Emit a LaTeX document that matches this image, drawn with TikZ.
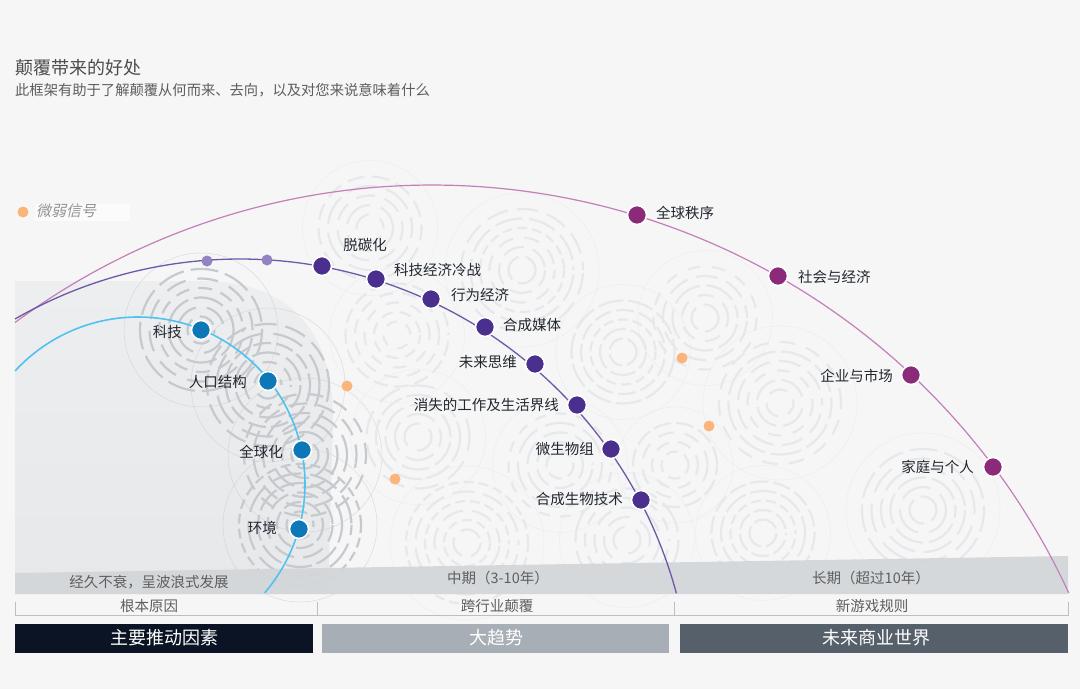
\documentclass[tikz,border=0pt]{standalone}
\usepackage{fontspec}
\setmainfont{Noto Sans CJK SC}
\newfontfamily\slantf[FakeSlant=0.22]{Noto Sans CJK SC}
\definecolor{bgc}{HTML}{F6F6F6}
\definecolor{leftc}{HTML}{EDEEEF}
\definecolor{leftc2}{HTML}{E7E8EA}
\definecolor{bandc}{HTML}{D3D6D9}
\definecolor{ripdark}{HTML}{C6C9CE}
\definecolor{riplight}{HTML}{E6E8EB}
\definecolor{bluel}{HTML}{4EC3EF}
\definecolor{bluen}{HTML}{0D78B8}
\definecolor{purl}{HTML}{6D58AA}
\definecolor{purn}{HTML}{4A2F8F}
\definecolor{purs}{HTML}{9383C2}
\definecolor{magl}{HTML}{C47EB9}
\definecolor{magn}{HTML}{8A2A79}
\definecolor{orn}{HTML}{FBB57A}
\definecolor{labelc}{HTML}{222730}
\definecolor{titlec}{HTML}{4D4D4D}
\definecolor{subc}{HTML}{5E5E5E}
\definecolor{brc}{HTML}{B9BFC6}
\definecolor{bar1}{HTML}{0B1424}
\definecolor{bar2}{HTML}{A7AEB5}
\definecolor{bar3}{HTML}{56606B}
\newcommand\myrip[5]{%
  \foreach \k in {1,...,#3}{%
    \pgfmathsetmacro\rr{4+\k*9.5}%
    \pgfmathsetmacro\dl{10+mod(\k*#5*7,24)}%
    \pgfmathsetmacro\gl{5+mod(\k*#5*3,8)}%
    \pgfmathsetmacro\ph{mod(\k*13*#5,40)}%
    \draw[#4,line width=2.2pt,dash pattern=on \dl pt off \gl pt,dash phase=\ph pt] (#1,#2) circle[radius=\rr];
  }%
  \pgfmathsetmacro\ra{4+#3*9.5+16}%
  \draw[#4,line width=0.5pt,opacity=0.6] (#1,#2) circle[radius=\ra];
}
\tikzset{
  lbl/.style={font=\fontsize{14.5}{16}\selectfont, text=labelc, inner sep=0pt},
  bigdot/.style={circle, draw=white, line width=1.6pt, minimum size=19pt, inner sep=0pt},
  smalldot/.style={circle, minimum size=11pt, inner sep=0pt},
  bandtxt/.style={font=\fontsize{14.5}{16}\selectfont, text=subc, inner sep=0pt},
  brtxt/.style={font=\fontsize{14.5}{16}\selectfont, text=subc, inner sep=0pt},
  bartxt/.style={font=\fontsize{18}{20}\selectfont, text=white, inner sep=0pt},
}
\begin{document}
\begin{tikzpicture}[x=1pt,y=-1pt]
\fill[bgc] (0,0) rectangle (1080,689);
\useasboundingbox (0,0) rectangle (1080,689);

% title
\node[anchor=west, font=\fontsize{18}{20}\selectfont, text=titlec, inner sep=0pt] (title) at (15,68) {颠覆带来的好处};
\node[anchor=west, font=\fontsize{14.3}{16}\selectfont, text=subc, inner sep=0pt] (subtitle) at (15,90) {此框架有助于了解颠覆从何而来、去向，以及对您来说意味着什么};

% left shaded region
\shade[top color=leftc, bottom color=leftc2] (15,281) -- (200,281) .. controls (290,281) and (333,330) .. (333,420) -- (328,594) -- (15,594) -- cycle;

% ripples
\myrip{201}{330}{6}{ripdark}{1}
\myrip{268}{385}{6}{ripdark}{2}
\myrip{305}{455}{6}{ripdark}{3}
\myrip{300}{525}{6}{ripdark}{4}
\myrip{370}{228}{5}{riplight}{5}
\myrip{522}{270}{6}{riplight}{6}
\myrip{397}{335}{5}{riplight}{7}
\myrip{623}{352}{5}{riplight}{8}
\myrip{705}{318}{5}{riplight}{9}
\myrip{418}{437}{5}{riplight}{10}
\myrip{560}{465}{5}{riplight}{11}
\myrip{467}{543}{6}{riplight}{12}
\myrip{627}{540}{5}{riplight}{13}
\myrip{675}{465}{4}{riplight}{14}
\myrip{780}{403}{6}{riplight}{15}
\myrip{763}{533}{5}{riplight}{16}
\myrip{923}{510}{6}{riplight}{17}

% legend
\fill[white, opacity=0.6] (35,204) rectangle (130,221);
\node[smalldot, fill=orn] (legdot) at (23,212) {};
\node[anchor=west, font=\slantf\fontsize{15}{16}\selectfont, text=gray!85, inner sep=0pt] (legtxt) at (36,211) {微弱信号};

% bottom band
\fill[bandc, opacity=0.92] (15,573) -- (1068,556) -- (1068,594) -- (15,594) -- cycle;
\node[bandtxt] (b1) at (149,582) {经久不衰，呈波浪式发展};
\node[bandtxt] (b2) at (498,578) {中期（3-10年）};
\node[bandtxt] (b3) at (871,578) {长期（超过10年）};

% arcs
\draw[magl, line width=1.2pt] plot[domain=126.5:24.7, samples=160, variable=\t] ({432+701*cos(\t)},{886-701*sin(\t)});
\draw[purl, line width=1.3pt] plot[domain=119.85:15.1, samples=160, variable=\t] ({240+452*cos(\t)},{711-452*sin(\t)});
\draw[bluel, line width=1.6pt] plot[domain=137.4:-40.7, samples=140, variable=\t] ({138+167*cos(\t)},{484-167*sin(\t)});

% blue nodes
\node[bigdot, fill=bluen] (keji) at (201,330) {};
\node[bigdot, fill=bluen] (renkou) at (268,381) {};
\node[bigdot, fill=bluen] (quanqiu) at (302,450) {};
\node[bigdot, fill=bluen] (huanjing) at (299,529) {};
\node[lbl, anchor=east] (kejiL) at (182,332) {科技};
\node[lbl, anchor=east] (renkouL) at (247,382) {人口结构};
\node[lbl, anchor=east] (quanqiuL) at (283,452) {全球化};
\node[lbl, anchor=east] (huanjingL) at (277,528) {环境};

% purple nodes
\node[smalldot, fill=purs] (s1) at (207,261) {};
\node[smalldot, fill=purs] (s2) at (267,260) {};
\node[bigdot, fill=purn] (p1) at (322,266) {};
\node[bigdot, fill=purn] (p2) at (376,279) {};
\node[bigdot, fill=purn] (p3) at (431,299) {};
\node[bigdot, fill=purn] (p4) at (485,327) {};
\node[bigdot, fill=purn] (p5) at (535,364) {};
\node[bigdot, fill=purn] (p6) at (577,405) {};
\node[bigdot, fill=purn] (p7) at (611,449) {};
\node[bigdot, fill=purn] (p8) at (641,500) {};
\node[lbl, anchor=center] (p1L) at (365,245) {脱碳化};
\node[lbl, anchor=west] (p2L) at (394,270) {科技经济冷战};
\node[lbl, anchor=west] (p3L) at (451,295) {行为经济};
\node[lbl, anchor=west] (p4L) at (503,325) {合成媒体};
\node[lbl, anchor=east] (p5L) at (517,362) {未来思维};
\node[lbl, anchor=east] (p6L) at (559,405) {消失的工作及生活界线};
\node[lbl, anchor=east] (p7L) at (594,449) {微生物组};
\node[lbl, anchor=east] (p8L) at (623,499) {合成生物技术};

% magenta nodes
\node[bigdot, fill=magn] (m1) at (637,215) {};
\node[bigdot, fill=magn] (m2) at (778,276) {};
\node[bigdot, fill=magn] (m3) at (911,375) {};
\node[bigdot, fill=magn] (m4) at (993,467) {};
\node[lbl, anchor=west] (m1L) at (656,213) {全球秩序};
\node[lbl, anchor=west] (m2L) at (798,277) {社会与经济};
\node[lbl, anchor=east] (m3L) at (893,376) {企业与市场};
\node[lbl, anchor=east] (m4L) at (974,467) {家庭与个人};

% weak signals
\node[smalldot, fill=orn] (o1) at (347,386) {};
\node[smalldot, fill=orn] (o2) at (395,479) {};
\node[smalldot, fill=orn] (o3) at (682,358) {};
\node[smalldot, fill=orn] (o4) at (709,426) {};

% bracket
\draw[brc, line width=0.9pt] (15,602) -- (15,615) -- (1068,615) -- (1068,602);
\draw[brc, line width=0.9pt] (317,602) -- (317,615);
\draw[brc, line width=0.9pt] (674,602) -- (674,615);
\node[brtxt] (r1) at (149,606) {根本原因};
\node[brtxt] (r2) at (497,606) {跨行业颠覆};
\node[brtxt] (r3) at (872,606) {新游戏规则};

% bars
\fill[bar1] (15,624) rectangle (313,653);
\fill[bar2] (322,624) rectangle (669,653);
\fill[bar3] (680,624) rectangle (1068,653);
\node[bartxt] (t1) at (164,638) {主要推动因素};
\node[bartxt] (t2) at (496,638) {大趋势};
\node[bartxt] (t3) at (876,638) {未来商业世界};
\end{tikzpicture}
\end{document}
